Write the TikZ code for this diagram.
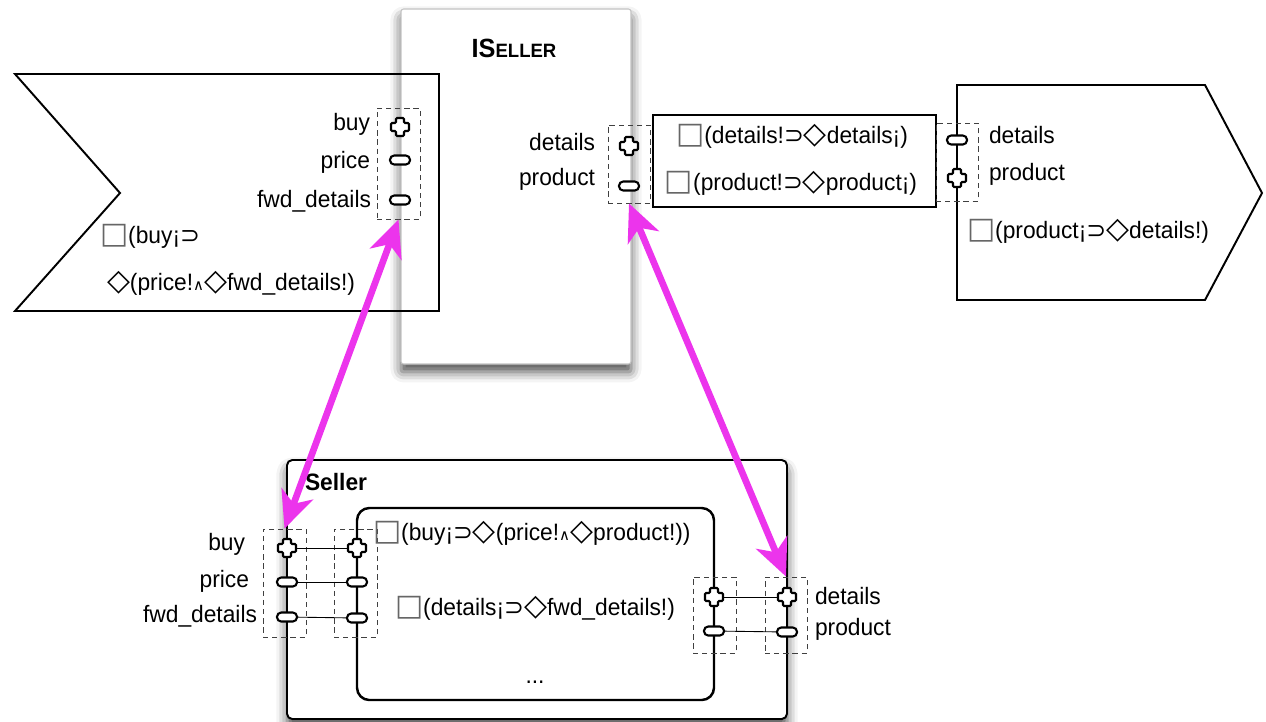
\documentclass[tikz,border=0pt]{standalone}
\usepackage{fontspec}
\setmainfont{Liberation Sans}[FakeStretch=0.96]
\newfontfamily\symf{DejaVu Sans}
\usetikzlibrary{arrows.meta,fit,shadows.blur}

\definecolor{linkmag}{RGB}{236,52,236}
\definecolor{framegray}{RGB}{195,195,195}

% temporal-logic glyphs
\newcommand{\alw}{{\symf\fontsize{17}{17}\selectfont\textcolor{black!60}{□}}}
\newcommand{\evt}{{\symf\fontsize{17}{17}\selectfont ◇}}
\newcommand{\imp}{{\symf ⊃}}
\newcommand{\wdg}{{\symf\fontsize{8.5}{8.5}\selectfont ∧}}

\tikzset{
  lbl/.style={inner sep=0pt, outer sep=0pt},
  portbox/.style={draw=black!75, dash pattern=on 3pt off 2.2pt, line width=0.5pt, inner sep=0pt},
  outline/.style={draw=black, line width=1.1pt, inner sep=0pt},
  wire/.style={draw=black, line width=0.5pt},
  link/.style={draw=linkmag, line width=3.8pt,
    {Stealth[length=21pt,width=19pt,inset=6pt]}-{Stealth[length=21pt,width=19pt,inset=6pt]}},
  softshadow/.style={blur shadow={shadow xshift=0pt, shadow yshift=-4.5pt,
    shadow blur radius=6pt, shadow opacity=70}},
  pics/plusport/.style={code={
    \draw[fill=white, line width=1.2pt, rounded corners=0.6pt]
      (-4,-9) -- (4,-9) -- (4,-4) -- (9,-4) -- (9,4) -- (4,4) -- (4,9)
      -- (-4,9) -- (-4,4) -- (-9,4) -- (-9,-4) -- (-4,-4) -- cycle;}},
  pics/ovalport/.style={code={
    \draw[fill=white, line width=1.2pt, rounded corners=2.4pt]
      (-10,-4.5) rectangle (10,4.5);}}
}

\begin{document}
\begin{tikzpicture}[x=0.02cm, y=-0.02cm, font=\fontsize{13.5}{16}\selectfont]
\useasboundingbox (0,0) rectangle (1266,721);

% ---------- ISeller component ----------
\node[draw=framegray, line width=0.6pt, fill=white, softshadow, rounded corners=1.5pt,
      inner sep=0pt, fit={(401,9) (631,364)}] (iseller) {};
\node[lbl, anchor=base, font=\bfseries] (isellertitle) at (514,57)
  {{\fontsize{15}{15}\selectfont IS}{\fontsize{11}{11}\selectfont ELLER}};

% ---------- left flag (buyer side) ----------
\draw[outline] (15,74) -- (439,74) -- (439,311) -- (15,311) -- (120,193) -- cycle;

% ---------- right flag (provider side) ----------
\draw[outline, fill=white] (957,85) -- (1205,85) -- (1262,193) -- (1205,300) -- (957,300) -- cycle;

% ---------- connector formula box ----------
\node[outline, fill=white, fit={(653,115) (936,207)}] (fbox) {};

% ---------- Seller component ----------
\node[outline, fill=white, softshadow, rounded corners=3pt, fit={(287,460) (787,719)}] (seller) {};
\node[draw, line width=1.4pt, rounded corners=7pt, inner sep=0pt, fit={(357,508) (714,700)}] (inner) {};

% ---------- dashed port groups ----------
\node[portbox, fit={(377,108) (420,219)}] (fpb) {};
\node[portbox, fit={(608,125) (650,203)}] (ipb) {};
\node[portbox, fit={(936,123) (978,201)}] (rpb) {};
\node[portbox, fit={(263,529) (306,637)}] (sla) {};
\node[portbox, fit={(334,529) (377,637)}] (slb) {};
\node[portbox, fit={(693,577) (736,653)}] (sra) {};
\node[portbox, fit={(765,577) (807,653)}] (srb) {};

% ---------- port positions ----------
\coordinate (fp1) at (400,127);
\coordinate (fp2) at (400,160);
\coordinate (fp3) at (400,200);
\coordinate (ip1) at (629,146);
\coordinate (ip2) at (629,186);
\coordinate (rp1) at (957,140);
\coordinate (rp2) at (957,178);
\coordinate (so1) at (287,548);
\coordinate (so2) at (287,582);
\coordinate (so3) at (287,617);
\coordinate (si1) at (357,548);
\coordinate (si2) at (357,582);
\coordinate (si3) at (357,618);
\coordinate (ti1) at (714,597);
\coordinate (ti2) at (714,631);
\coordinate (to1) at (787,597);
\coordinate (to2) at (787,632);

% internal wiring of Seller
\draw[wire] (so1) -- (si1);
\draw[wire] (so2) -- (si2);
\draw[wire] (so3) -- (si3);
\draw[wire] (ti1) -- (to1);
\draw[wire] (ti2) -- (to2);

% port glyphs
\pic at (fp1) {plusport};
\pic at (fp2) {ovalport};
\pic at (fp3) {ovalport};
\pic at (ip1) {plusport};
\pic at (ip2) {ovalport};
\pic at (rp1) {ovalport};
\pic at (rp2) {plusport};
\pic at (so1) {plusport};
\pic at (so2) {ovalport};
\pic at (so3) {ovalport};
\pic at (si1) {plusport};
\pic at (si2) {ovalport};
\pic at (si3) {ovalport};
\pic at (ti1) {plusport};
\pic at (ti2) {ovalport};
\pic at (to1) {plusport};
\pic at (to2) {ovalport};

% ---------- labels ----------
\node[lbl, anchor=base east] (lbuy) at (370,130) {buy};
\node[lbl, anchor=base east] (lprice) at (370,168) {price};
\node[lbl, anchor=base east] (lfwd) at (371,207) {fwd\_details};
\node[lbl, anchor=base west] (lform1) at (100,243) {\alw(buy¡\imp};
\node[lbl, anchor=base west] (lform2) at (107,290) {\evt(price!\wdg\evt fwd\_details!)};

\node[lbl, anchor=base east] (idetails) at (595,150) {details};
\node[lbl, anchor=base east] (iproduct) at (595,185) {product};

\node[lbl, anchor=base] (fform1) at (792,143) {\alw(details!\imp\evt details¡)};
\node[lbl, anchor=base] (fform2) at (791,190) {\alw(product!\imp\evt product¡)};

\node[lbl, anchor=base west] (rdetails) at (989,143) {details};
\node[lbl, anchor=base west] (rproduct) at (989,180) {product};
\node[lbl, anchor=base west] (rform) at (967,238) {\alw(product¡\imp\evt details!)};

\node[lbl, anchor=base west, font=\fontsize{13.5}{16}\selectfont\bfseries] (sellertitle) at (305,490) {Seller};
\node[lbl, anchor=base east] (sbuy) at (245,550) {buy};
\node[lbl, anchor=base east] (sprice) at (249,587) {price};
\node[lbl, anchor=base east] (sfwd) at (257,622) {fwd\_details};
\node[lbl, anchor=base west] (sform1) at (373,540) {\alw(buy¡\imp\evt(price!\wdg\evt product!))};
\node[lbl, anchor=base west] (sform2) at (395,615) {\alw(details¡\imp\evt fwd\_details!)};
\node[lbl, anchor=base] (sdots) at (535,683) {...};
\node[lbl, anchor=base west] (sdetails) at (815,604) {details};
\node[lbl, anchor=base west] (sproduct) at (815,635) {product};

% ---------- bindings ----------
\draw[link] (fpb.south) -- (sla.north);
\draw[link] (ipb.south) -- (srb.north);

\end{tikzpicture}
\end{document}
